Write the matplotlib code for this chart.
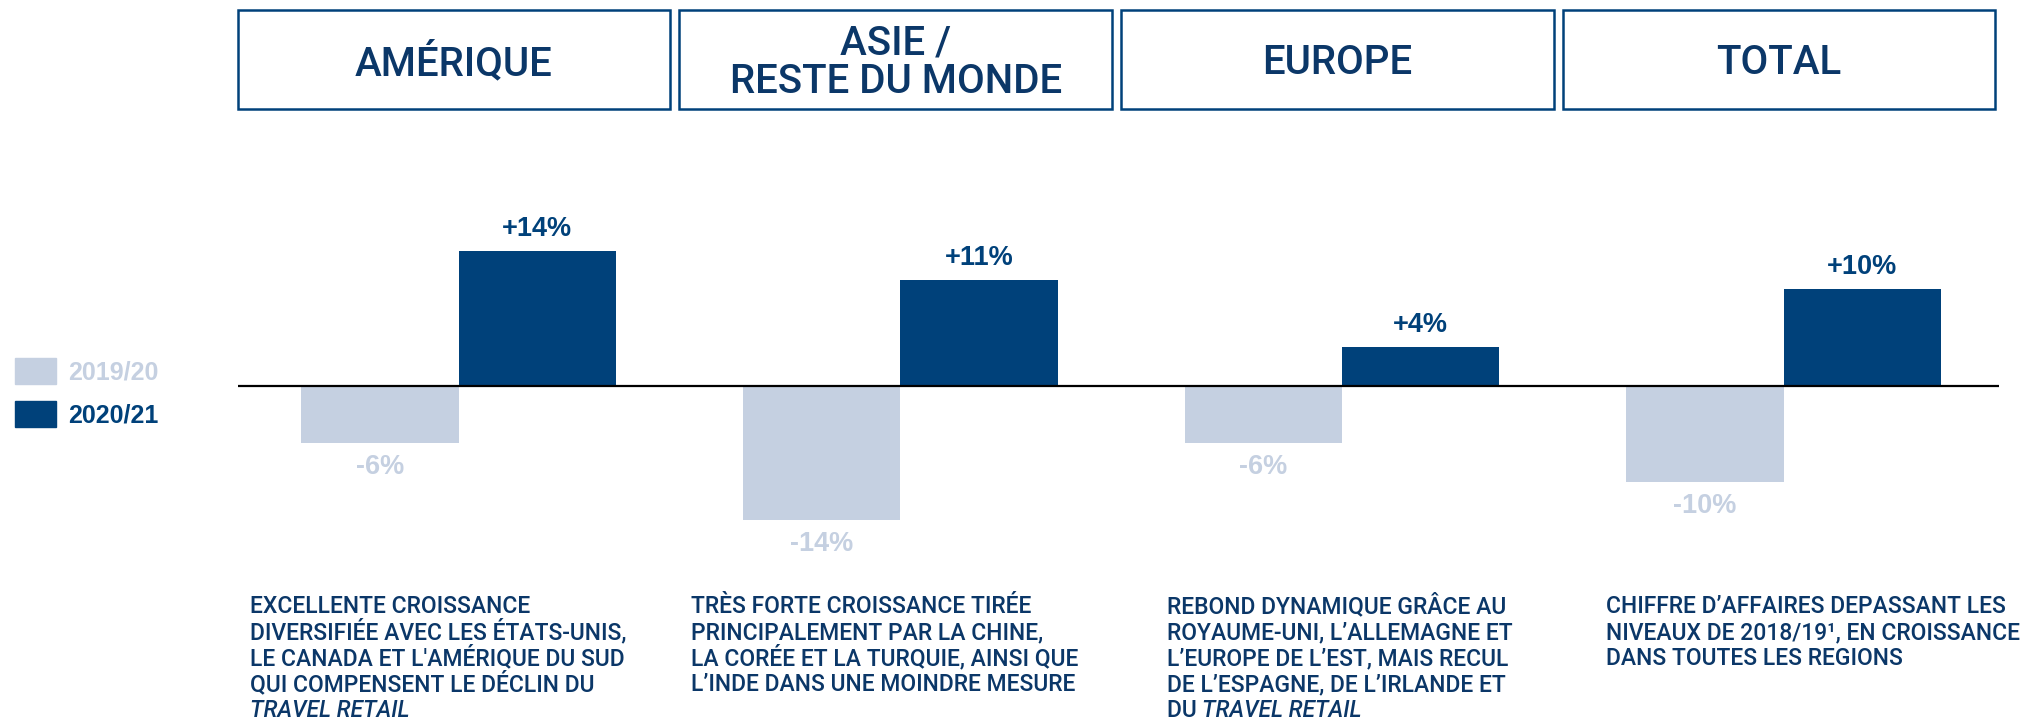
import matplotlib
matplotlib.use("Agg")
import matplotlib.pyplot as plt
import matplotlib.transforms as mtransforms
from matplotlib.patches import Rectangle, Patch
import numpy as np

plt.rcParams['font.family'] = ['Liberation Sans', 'DejaVu Sans']
txt_font = ['Roboto', 'Liberation Sans', 'DejaVu Sans']

regions = ['AMÉRIQUE', 'ASIE /\nRESTE DU MONDE', 'EUROPE', 'TOTAL']
years = ['2019/20', '2020/21']
growth_1920 = [-6, -14, -6, -10]
growth_2021 = [14, 11, 4, 10]
labels_1920 = ['-6%', '-14%', '-6%', '-10%']
labels_2021 = ['+14%', '+11%', '+4%', '+10%']

# commentaire sous chaque région : (lignes normales, fin en italique)
comments = [
    (['EXCELLENTE CROISSANCE', 'DIVERSIFIÉE AVEC LES ÉTATS-UNIS,',
      "LE CANADA ET L'AMÉRIQUE DU SUD", 'QUI COMPENSENT LE DÉCLIN DU', ''], 'TRAVEL RETAIL'),
    (['TRÈS FORTE CROISSANCE TIRÉE', 'PRINCIPALEMENT PAR LA CHINE,',
      'LA CORÉE ET LA TURQUIE, AINSI QUE', 'L’INDE DANS UNE MOINDRE MESURE'], None),
    (['REBOND DYNAMIQUE GRÂCE AU', 'ROYAUME-UNI, L’ALLEMAGNE ET',
      'L’EUROPE DE L’EST, MAIS RECUL', 'DE L’ESPAGNE, DE L’IRLANDE ET', 'DU '], 'TRAVEL RETAIL'),
    (['CHIFFRE D’AFFAIRES DEPASSANT LES', 'NIVEAUX DE 2018/19¹, EN CROISSANCE',
      'DANS TOUTES LES REGIONS'], None),
]

dark = '#00417a'
light = '#c5d0e1'
text_col = '#0b3768'

fig = plt.figure(figsize=(20.37, 7.23), dpi=100)
ax = fig.add_axes([0.1167, 0.2011, 0.8648, 0.5314])

x = np.arange(len(regions))
w = 0.356
ax.bar(x - w / 2, growth_1920, w, color=light, label=years[0])
ax.bar(x + w / 2, growth_2021, w, color=dark, label=years[1])
ax.axhline(0, color='black', linewidth=1.6)

for i in range(len(regions)):
    ax.annotate(labels_2021[i], (x[i] + w / 2, growth_2021[i]), xytext=(0, 11),
                textcoords='offset points', ha='center', va='baseline',
                fontsize=19.5, fontweight='bold', color=dark)
    ax.annotate(labels_1920[i], (x[i] - w / 2, growth_1920[i]), xytext=(0, -8),
                textcoords='offset points', ha='center', va='top',
                fontsize=19.5, fontweight='bold', color=light)

ax.set_xlim(-0.5, 3.488)
ax.set_ylim(-20, 20)
ax.axis('off')

# cadres des titres
trans = mtransforms.blended_transform_factory(ax.transData, fig.transFigure)
for i, name in enumerate(regions):
    r = Rectangle((i - 0.5, 0.8492), 0.979, 0.1364, transform=trans, fill=False,
                  edgecolor=dark, linewidth=1.8, clip_on=False)
    fig.add_artist(r)
    fig.text(i - 0.5 + 0.979 / 2, 0.913, name, transform=trans,
             ha='center', va='center', fontsize=29, fontweight='medium',
             family=txt_font, color=text_col, linespacing=1.0)

# commentaires
text_x = [0.1227, 0.3393, 0.5727, 0.7883]
base_y = 1 - 613 / 723
pitch = 26 / 723
for i, (lines, ital) in enumerate(comments):
    t = None
    for j, line in enumerate(lines):
        t = fig.text(text_x[i], base_y - j * pitch, line, ha='left', va='baseline',
                     fontsize=16.5, fontweight='medium', family=txt_font, color=text_col)
    if ital:
        if lines[-1]:
            ax.annotate(ital, xy=(1, 0), xycoords=t, ha='left', va='bottom',
                        fontsize=16.5, fontweight='medium', family=txt_font,
                        color=text_col, style='italic', annotation_clip=False)
        else:
            t.set_text(ital)
            t.set_style('italic')

# légende
handles = [Patch(color=light), Patch(color=dark)]
leg = fig.legend(handles, years, loc='upper left', bbox_to_anchor=(15 / 2037, 1 - 358 / 723),
                 frameon=False, borderpad=0, borderaxespad=0,
                 handlelength=1.64, handleheight=1.24, handletextpad=0.48,
                 labelspacing=0.65, prop={'size': 18, 'weight': 'bold'})
for txt, c in zip(leg.get_texts(), [light, dark]):
    txt.set_color(c)

fig.savefig('out.png', dpi=100)
